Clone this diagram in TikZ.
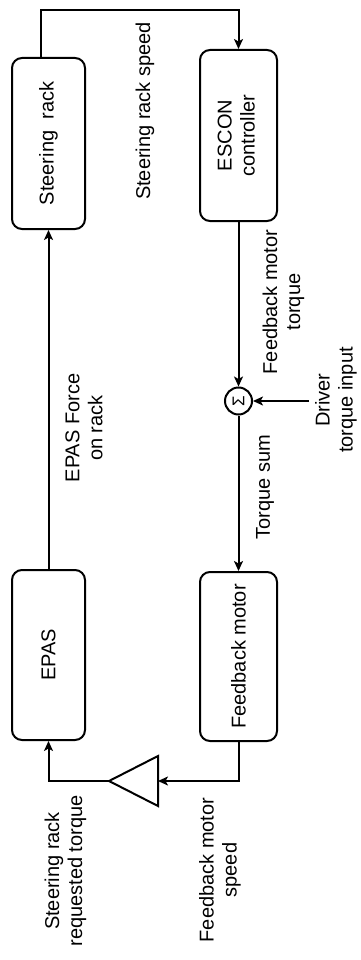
\documentclass[tikz,border=0pt]{standalone}
\usepackage{fontspec}
\setmainfont{Liberation Sans}
\usepackage{graphicx}
\usetikzlibrary{arrows.meta,calc}
\begin{document}
\begin{tikzpicture}[x=1pt,y=-1pt,
  blk/.style={draw, line width=2pt, rounded corners=10pt, inner sep=0pt,
    font=\fontsize{20}{23}\selectfont},
  conn/.style={line width=2pt},
  arr/.style={conn, -{Stealth[length=10pt,width=9pt,inset=2.5pt]}},
  lbl/.style={rotate=90, font=\fontsize{20}{23}\selectfont, align=center, inner sep=0pt},
  sumnode/.style={draw, circle, line width=2pt, minimum size=27pt, inner sep=0pt,
    font=\fontsize{17}{17}\selectfont},
]
\useasboundingbox (0,0) rectangle (361,960);

% blocks
\node[blk, minimum width=73pt, minimum height=171pt] (rack) at (48.5,143.5)
  {\rotatebox{90}{Steering\ \ rack}};
\node[blk, minimum width=77pt, minimum height=171pt] (escon) at (238.5,135.5)
  {\rotatebox{90}{\begin{tabular}{@{}c@{}}ESCON\\controller\end{tabular}}};
\node[blk, minimum width=73pt, minimum height=170pt] (epas) at (48.5,655)
  {\rotatebox{90}{EPAS}};
\node[blk, minimum width=77pt, minimum height=169pt] (fbm) at (238.5,656.5)
  {\rotatebox{90}{Feedback motor}};
\node[sumnode] (sum) at (238.5,401) {\rotatebox{90}{Σ}};

% gain triangle
\coordinate (gainin) at (158,781);
\coordinate (gainout) at (109,781);
\draw[conn, line join=miter] (158,756) -- (158,806) -- (gainout) -- cycle;

% helper coordinates
\coordinate (topy) at (0,10);
\coordinate (drv) at (309,401);

% connectors
\draw[arr] ([xshift=-7.5pt]rack.north) -- ([xshift=-7.5pt]rack.north |- topy) -| (escon.north);
\draw[arr] (epas.north) -- (rack.south);
\draw[arr] (escon.south) -- (sum.north);
\draw[arr] (drv) -- (sum.east);
\draw[arr] (sum.south) -- (fbm.north);
\draw[arr] (fbm.south) |- (gainin);
\draw[arr] (gainout) -| (epas.south);

% labels
\node[lbl] (lspeed) at (145,111) {Steering rack speed};
\node[lbl] (lfbt) at (283.5,302) {Feedback motor\\torque};
\node[lbl] (ldrv) at (336,400) {Driver\\torque input};
\node[lbl] (lepas) at (84,428) {EPAS Force\\on rack};
\node[lbl] (ltsum) at (265,487) {Torque sum};
\node[lbl] (lreq) at (65.5,871) {Steering rack\\requested torque};
\node[lbl] (lfbs) at (220,870) {Feedback motor\\speed};
\end{tikzpicture}
\end{document}
